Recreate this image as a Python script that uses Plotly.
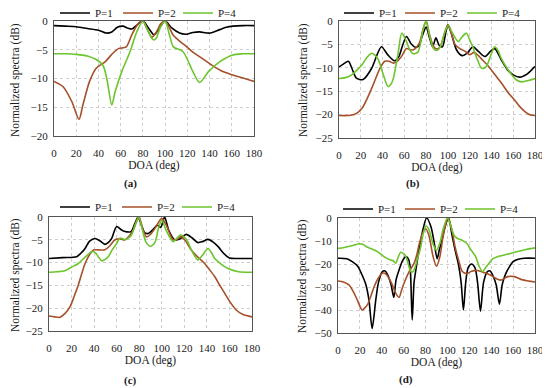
import plotly.graph_objects as go

# ---------------- data ----------------
series_names = ["P=1", "P=2", "P=4"]
colors = ["#000000", "#A5502A", "#6CC52C"]
panel_labels = ["(a)", "(b)", "(c)", "(d)"]
x_ticks = [0, 20, 40, 60, 80, 100, 120, 140, 160, 180]
x_title = "DOA (deg)"
y_title = "Normalized spectra (dB)"

# panel (a)
a_p1_x = [0, 10, 20, 30, 40, 47, 52, 57, 62, 66, 70, 74, 80, 85, 90, 95, 100, 106, 113, 119, 125, 131, 140, 149, 155, 161, 170, 180]
a_p1_y = [-0.8, -0.9, -1.0, -1.3, -1.6, -2.1, -1.9, -1.1, -0.9, -1.2, -1.4, -0.8, 0, -1.2, -2.4, -1.2, 0, -1.2, -2.1, -2.3, -2.0, -1.9, -2.1, -1.5, -1.1, -0.9, -0.8, -0.8]
a_p2_x = [0, 8, 16, 22.5, 26, 32, 38, 46, 52, 58, 65, 70, 76, 80, 84, 88, 92, 96, 100, 104, 107, 113, 119, 125, 131, 143, 152, 161, 170, 180]
a_p2_y = [-10.5, -11.4, -14.0, -17.1, -14.6, -10.5, -8.2, -7.1, -5.8, -4.8, -4.5, -2.4, -0.4, 0, -1.5, -2.8, -2.0, -0.5, 0, -1.2, -2.4, -3.5, -4.4, -5.4, -6.2, -7.8, -8.8, -9.4, -9.9, -10.5]
a_p4_x = [0, 10, 20, 30, 38, 44, 47.5, 52, 55, 61, 68.5, 74.5, 80, 84, 88, 90, 92, 96, 100, 104, 107.5, 116, 125, 131, 139, 149, 161, 170, 180]
a_p4_y = [-5.7, -5.7, -5.8, -6.1, -6.7, -7.7, -10.0, -14.6, -12.3, -8.8, -5.3, -1.9, 0, -1.5, -3.0, -3.3, -3.0, -1.0, 0, -2.5, -4.5, -5.3, -8.8, -10.7, -8.8, -7.1, -5.9, -5.7, -5.7]

# panel (b)
b_p1_x = [0, 4, 8.6, 12, 16, 22, 30, 35, 39, 45, 51, 55, 58, 62, 66, 70, 73, 76, 80, 83, 86, 89, 92, 95, 98, 100, 103, 108, 113, 118, 123, 128, 134, 139, 143, 149, 155, 160, 166, 173, 180]
b_p1_y = [-9.8, -9.2, -8.6, -10.2, -12.2, -12.5, -10.1, -7.2, -5.5, -7.3, -8.5, -7.6, -5.5, -3.3, -4.8, -5.6, -5.4, -3.5, -1.3, -3.5, -5.5, -3.6, -5.2, -5.5, -2.5, -0.8, -2.5, -6.2, -7.4, -6.8, -5.5, -6.5, -7.6, -6.5, -5.9, -8.3, -10.5, -11.5, -12.0, -11.3, -9.7]
b_p2_x = [0, 8, 14, 21, 30, 37.6, 42, 46, 50, 54, 57.6, 62, 66.6, 70, 74, 77, 80, 83, 87, 90, 93, 97, 100, 103, 106.5, 111, 116, 120, 124, 128, 132, 137, 143, 149, 155, 161.6, 166, 171, 176, 180]
b_p2_y = [-20.2, -20.2, -20.0, -18.7, -14.4, -10.1, -8.6, -8.6, -9.0, -8.5, -7.5, -5.9, -6.2, -5.9, -4.6, -2.0, 0, -2.8, -5.5, -6.0, -5.5, -2.5, -0.8, -2.5, -5.0, -5.9, -6.5, -7.2, -6.7, -7.4, -8.4, -9.6, -11.4, -13.2, -15.2, -17.0, -18.3, -19.4, -20.1, -20.2]
b_p4_x = [0, 6, 11.6, 16, 21, 26, 30, 33, 36, 40.7, 45, 48, 50, 54.5, 57.6, 62, 65, 68, 72.6, 77.4, 80, 83, 87, 90, 93, 97, 100.4, 104, 109.5, 113, 117, 120, 123.3, 127, 131, 135, 139, 143, 146, 149, 154, 158.6, 163, 168, 174, 180]
b_p4_y = [-12.3, -12.1, -11.5, -10.6, -9.4, -7.7, -6.9, -7.3, -8.2, -11.5, -14.0, -13.4, -12.2, -6.6, -2.6, -4.4, -6.2, -7.0, -6.6, -1.6, 0, -3.0, -6.0, -6.3, -5.5, -2.5, -0.9, -2.5, -4.4, -3.4, -2.6, -4.0, -5.8, -8.2, -10.1, -9.8, -7.6, -5.5, -6.3, -8.0, -10.0, -11.5, -12.6, -13.0, -12.7, -12.3]

# panel (c)
c_p1_x = [0, 12, 24.5, 28, 32, 36, 40.8, 45, 49.6, 53, 55.6, 60, 64, 67.4, 72.7, 76, 79, 82, 85, 88, 92, 96, 99, 102.5, 106, 111.4, 116, 121.7, 127, 132, 136, 141, 145, 150, 155, 160, 170, 180]
c_p1_y = [-9.1, -8.9, -8.7, -8.0, -6.9, -5.3, -4.7, -5.2, -6.0, -5.5, -4.7, -2.1, -2.8, -3.2, -3.2, -1.5, 0, -1.8, -3.5, -3.6, -2.8, -1.8, -2.3, 0, -2.8, -5.0, -4.8, -3.8, -4.6, -5.6, -5.4, -4.9, -5.4, -6.5, -8.0, -9.0, -9.1, -9.1]
c_p2_x = [0, 5, 9.8, 14, 18.6, 22, 26, 32, 37.8, 40, 43.7, 49.6, 54, 58.5, 63, 67.4, 71, 74.7, 78, 80, 83, 86.5, 90, 94, 97, 100, 104, 110, 114, 117, 121, 126, 132, 138, 142.5, 147, 151, 155.7, 161, 166, 172, 180]
c_p2_y = [-21.7, -21.9, -22.0, -21.2, -19.7, -17.6, -14.9, -10.2, -7.6, -7.2, -7.2, -7.2, -6.3, -5.0, -4.8, -5.0, -4.2, -2.9, -0.8, 0, -2.5, -4.4, -3.8, -2.5, -1.2, -0.3, -1.8, -5.0, -4.8, -4.3, -5.2, -7.2, -8.8, -10.2, -11.6, -13.1, -14.8, -16.7, -18.8, -20.4, -21.4, -21.9]
c_p4_x = [0, 7, 14, 20, 26, 32, 37.8, 41, 44, 46.7, 49, 52.6, 56, 60, 63, 67.4, 70, 73.3, 76, 79.5, 83, 86, 90, 94, 97, 100, 104, 110, 114, 117, 120, 123, 127, 132, 136, 141, 144, 147, 152, 158.7, 168, 180]
c_p4_y = [-12.1, -12.0, -11.8, -11.0, -10.2, -8.8, -7.6, -7.8, -8.8, -9.6, -9.4, -8.7, -7.2, -5.8, -4.6, -5.0, -4.7, -3.9, -2.0, 0, -3.0, -5.5, -6.4, -5.5, -2.5, -0.7, -3.0, -5.4, -4.5, -3.9, -4.4, -5.4, -7.6, -9.4, -8.4, -6.9, -7.8, -9.1, -10.2, -11.3, -12.0, -12.1]

# panel (d)
d_p1_x = [0, 8, 13, 18, 22, 25.5, 28.3, 31.2, 34.5, 37, 40.5, 43, 45.5, 48.5, 51, 53, 55.8, 59, 62, 64.5, 66, 67.8, 69.5, 71, 74, 77.4, 81, 85, 88, 90.6, 92.5, 94.6, 98, 101, 104, 107, 110, 112.5, 114.6, 116.7, 119, 122, 125, 127.5, 130.2, 133, 136.5, 139, 141.5, 144.5, 147.5, 150, 153, 156.3, 160, 164, 170, 180]
d_p1_y = [-17.5, -17.7, -19.0, -21.0, -24.8, -29, -35.7, -48, -35.7, -28, -23.3, -23.0, -24.8, -29, -34.5, -27, -22.6, -18.5, -16.8, -18.0, -22, -44.3, -28, -23, -14, -5.5, 0, -3.9, -11, -17.7, -14, -10.5, -3.5, 0, -7, -14, -20, -28, -40, -28, -21.5, -20.0, -21.5, -28, -40.5, -28, -23.3, -23.0, -25, -29, -37.5, -29, -24.5, -21.5, -19.0, -18.0, -17.5, -17.5]
d_p2_x = [0, 5, 10, 14, 17.7, 22, 24, 26.8, 30, 33, 37, 40.5, 43.5, 46.6, 50, 52.7, 55.8, 58, 60.3, 65, 69.5, 72, 74, 77, 80, 83, 87, 90, 93, 96, 98.5, 100.5, 104, 107, 110, 113.6, 117.6, 122, 127.3, 132, 136.5, 140, 144, 148.7, 155, 161, 167.8, 174, 180]
d_p2_y = [-27.4, -27.8, -29.1, -32, -35.7, -40, -39.3, -37.8, -34, -29.9, -26, -24, -24.3, -26.2, -29.5, -32.7, -34.5, -31.5, -28.4, -23.3, -19.7, -16, -11.7, -7, -4.7, -7.5, -17, -21, -17, -8, -2.5, 0, -5, -12.6, -18, -23.3, -24.2, -23.2, -22.8, -23.5, -24.2, -25.0, -26.2, -27, -25.5, -25.5, -26.8, -27.4, -27.8]
d_p4_x = [0, 5.8, 11.6, 19.2, 23, 26, 31, 36, 42, 48, 50.5, 52.7, 55, 57.3, 60, 62, 64.5, 66.4, 68, 69.5, 72.5, 75.6, 78, 80.5, 83, 87, 90, 93, 96, 100, 103, 106, 109, 113, 117.6, 121, 125.8, 129, 132, 135, 138, 141.5, 145.6, 151, 157.8, 164, 170, 176, 180]
d_p4_y = [-13.2, -12.8, -12.2, -11.2, -11.5, -12.5, -13.5, -14.6, -16.8, -18.3, -18.6, -19.6, -17, -14.9, -15.5, -16.8, -20.5, -23.3, -23.5, -22.6, -18, -12.5, -6.5, -3.5, -5.0, -11.5, -14, -11, -5, 0, -3.5, -7.5, -8.8, -9.6, -11, -13.5, -16.8, -21, -23.3, -21.5, -19.7, -17.7, -16.8, -16.2, -15.4, -14.6, -13.9, -13.3, -13.0]

panels = [
    ([a_p1_x, a_p2_x, a_p4_x], [a_p1_y, a_p2_y, a_p4_y], [-20, 0], 5),
    ([b_p1_x, b_p2_x, b_p4_x], [b_p1_y, b_p2_y, b_p4_y], [-25, 0], 5),
    ([c_p1_x, c_p2_x, c_p4_x], [c_p1_y, c_p2_y, c_p4_y], [-25, 0], 5),
    ([d_p1_x, d_p2_x, d_p4_x], [d_p1_y, d_p2_y, d_p4_y], [-50, 0], 10),
]

# ---------------- layout geometry (page pixels, 550x388 window) ----------------
OFF = 8                      # the page body margin offsets the figure by 8 px
W, H = 550 - OFF, 388 - OFF  # figure size that fits in the window


def px(xp):
    return (xp - OFF) / W


def py(yp):
    return 1 - (yp - OFF) / H


boxes = [  # left, right, top, bottom of each plot area (page pixels)
    (54, 254, 21, 136),
    (339, 535, 21, 138),
    (49, 252, 217, 331),
    (338, 535, 218, 333),
]
legend_x = [(60, 123, 183), (344, 405, 467), (60, 122, 182), (343, 405, 465)]
legend_y = [13, 13, 207, 209]
ytitle_pos = [(15, 80), (303, 80), (15, 275), (302, 276)]
label_pos = [(130, 183), (413, 183), (130, 380), (406, 379)]

FONT = "Liberation Serif, Times New Roman, serif"

fig = go.Figure()
layout = dict(
    width=W, height=H, margin=dict(l=0, r=0, t=0, b=0, autoexpand=False),
    paper_bgcolor="white", plot_bgcolor="white",
    font=dict(family=FONT, size=11, color="#1a1a1a"),
    showlegend=True,
)

annotations = []
legend_count = 0
for i, (xs, ys, yr, dt) in enumerate(panels):
    n = "" if i == 0 else str(i + 1)
    for k in range(3):
        legend_count += 1
        leg = "legend" if legend_count == 1 else f"legend{legend_count}"
        fig.add_trace(go.Scatter(
            x=xs[k], y=ys[k], mode="lines", name=series_names[k],
            line=dict(color=colors[k], width=1.6, shape="spline", smoothing=0.8),
            xaxis="x" + n, yaxis="y" + n, legend=leg,
        ))
        layout[leg] = dict(
            orientation="h", x=px(legend_x[i][k] - 5), y=py(legend_y[i]),
            xanchor="left", yanchor="middle", bgcolor="rgba(0,0,0,0)",
            font=dict(size=11), itemwidth=30,
        )
    l, r, t, b = boxes[i]
    layout["xaxis" + n] = dict(
        domain=[px(l), px(r)], anchor="y" + n, range=[0, 180],
        tickvals=x_ticks, showgrid=True, gridcolor="#cfcfcf", griddash="dot",
        showline=True, mirror=True, linecolor="#555555", linewidth=1,
        ticks="outside", ticklen=7, tickcolor="rgba(0,0,0,0)",
        zeroline=False, tickfont=dict(size=11),
        title=dict(text=x_title, font=dict(size=11.5), standoff=2),
    )
    layout["yaxis" + n] = dict(
        domain=[py(b), py(t)], anchor="x" + n, range=yr, dtick=dt,
        showgrid=True, gridcolor="#cfcfcf", griddash="dot",
        showline=True, mirror=True, linecolor="#555555", linewidth=1,
        ticks="outside", ticklen=3, tickcolor="rgba(0,0,0,0)",
        zeroline=False, tickfont=dict(size=11),
    )
    tx, ty = ytitle_pos[i]
    annotations.append(dict(
        text=y_title, x=px(tx), y=py(ty), xref="paper", yref="paper",
        showarrow=False, textangle=-90, font=dict(size=11.5),
        xanchor="center", yanchor="middle",
    ))
    lx, ly = label_pos[i]
    annotations.append(dict(
        text="<b>" + panel_labels[i] + "</b>", x=px(lx), y=py(ly),
        xref="paper", yref="paper", showarrow=False, font=dict(size=11),
        xanchor="center", yanchor="middle",
    ))

layout["annotations"] = annotations
fig.update_layout(**layout)
fig.write_html("out.html")
